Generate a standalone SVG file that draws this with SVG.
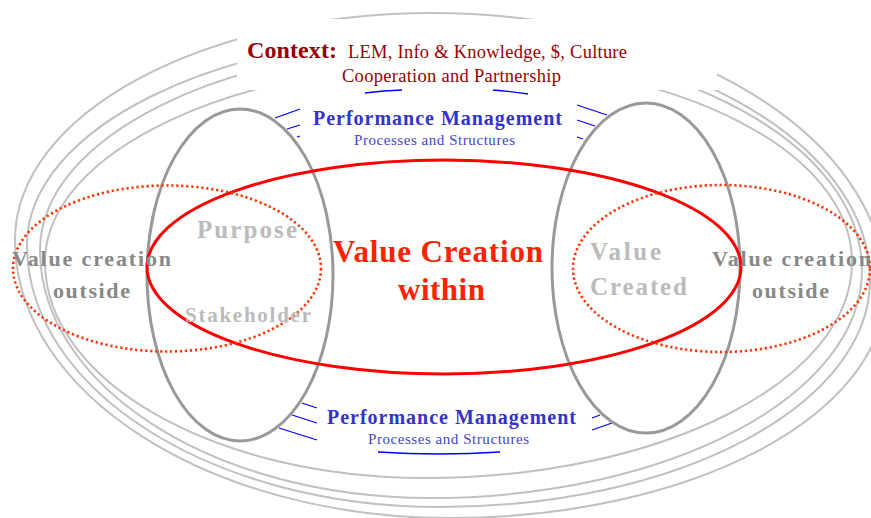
<svg xmlns="http://www.w3.org/2000/svg" width="871" height="518" viewBox="0 0 871 518">
  <style>
    .ring { fill: none; stroke: #c0c0c0; stroke-width: 2; }
    .lobe { fill: none; stroke: #999999; stroke-width: 3; }
    .core { fill: none; stroke: #ff0000; stroke-width: 3; }
    .dots { fill: none; stroke: #ff3300; stroke-width: 2.6; stroke-dasharray: 2.2 2.8; }
    .tick { fill: none; stroke: #0000ff; stroke-width: 1.3; }
    .serif { font-family: "Liberation Serif", "Times New Roman", serif; }
    .ctx-b { font-size: 24px; font-weight: bold; fill: #990000; }
    .ctx { font-size: 18.5px; fill: #990000; }
    .pm { font-size: 20px; font-weight: bold; fill: #3333cc; }
    .ps { font-size: 15px; fill: #4444cc; }
    .main { font-size: 31px; font-weight: bold; fill: #ff2200; }
    .pale { font-weight: bold; fill: #bbbbbb; }
    .outer { font-size: 22px; font-weight: bold; fill: #888888; }
  </style>

  <!-- outer context rings, one closed curve each -->
  <g id="rings">
    <path class="ring" d="M15,240 C15,114.6 202.1,13 433,13 C682.6,13 885,137 885,290 C885,415.9 690.3,518 450,518 C209.7,518 15,393.5 15,240 Z"/>
    <path class="ring" d="M27,245 C27,129 216.4,35 450,35 C682,35 870,144.7 870,280 C870,405.4 677.5,507 440,507 C211.9,507 27,389.7 27,245 Z"/>
    <path class="ring" d="M40,250 C40,136.8 225.8,45 455,45 C679.8,45 862,145.7 862,270 C862,395.9 668.6,498 430,498 C214.6,498 40,387 40,250 Z"/>
    <path class="ring" d="M45,262 C45,152.1 233,63 465,63 C678.7,63 852,152.1 852,262 C852,381.3 660.8,478 425,478 C215.1,478 45,381.3 45,262 Z"/>
  </g>

  <!-- context label panel -->
  <g id="context">
    <rect x="237" y="19" width="480" height="71" fill="#ffffff"/>
    <text class="serif ctx-b" x="247" y="58" textLength="90" lengthAdjust="spacing">Context:</text>
    <text class="serif ctx" x="348" y="58" textLength="279" lengthAdjust="spacing">LEM, Info &amp; Knowledge, $, Culture</text>
    <text class="serif ctx" x="342" y="82" textLength="219" lengthAdjust="spacing">Cooperation and Partnership</text>
  </g>

  <!-- performance management strokes -->
  <g id="connectors">
    <path class="tick" d="M365,93 Q384,90.5 402,90"/>
    <path class="tick" d="M493,90 Q511,91.5 528,94"/>
    <path class="tick" d="M275,118 L300,109"/>
    <path class="tick" d="M287,129 L300,125"/>
    <path class="tick" d="M297,137 L300,136"/>
    <path class="tick" d="M577,105 L607,115"/>
    <path class="tick" d="M577,120 L595,126"/>
    <path class="tick" d="M577,137 L583,139"/>
    <path class="tick" d="M302,403 L317,408"/>
    <path class="tick" d="M292,415 L317,423"/>
    <path class="tick" d="M279,428 L317,440"/>
    <path class="tick" d="M592,418 L600,415"/>
    <path class="tick" d="M592,430 L612,423"/>
    <path class="tick" d="M378,452 Q439,456 500,452"/>
  </g>

  <g id="pm-top">
    <text class="serif pm" x="313" y="125" textLength="249" lengthAdjust="spacing">Performance Management</text>
    <text class="serif ps" x="354" y="145" textLength="161" lengthAdjust="spacing">Processes and Structures</text>
  </g>
  <g id="pm-bottom">
    <text class="serif pm" x="327" y="424" textLength="249" lengthAdjust="spacing">Performance Management</text>
    <text class="serif ps" x="368" y="444" textLength="161" lengthAdjust="spacing">Processes and Structures</text>
  </g>

  <!-- stakeholder and result lobes -->
  <g id="lobe-left">
    <ellipse class="lobe" cx="240" cy="275" rx="93" ry="166"/>
  </g>
  <g id="lobe-right">
    <ellipse class="lobe" cx="646" cy="268" rx="94" ry="165"/>
  </g>

  <!-- value creation within -->
  <g id="within">
    <ellipse class="core" cx="444" cy="267" rx="297" ry="107"/>
    <text class="serif main" x="333" y="262" textLength="210" lengthAdjust="spacing">Value Creation</text>
    <text class="serif main" x="398" y="300" textLength="87" lengthAdjust="spacing">within</text>
  </g>

  <!-- value creation outside -->
  <g id="outside-left">
    <ellipse class="dots" cx="167" cy="268.5" rx="154" ry="83"/>
    <text class="serif outer" x="12" y="266" textLength="159" lengthAdjust="spacing">Value creation</text>
    <text class="serif outer" x="53" y="298" textLength="77" lengthAdjust="spacing">outside</text>
  </g>
  <g id="outside-right">
    <ellipse class="dots" cx="721.5" cy="268.5" rx="148.5" ry="83.5"/>
    <text class="serif outer" x="712" y="266" textLength="159" lengthAdjust="spacing">Value creation</text>
    <text class="serif outer" x="752" y="298" textLength="77" lengthAdjust="spacing">outside</text>
  </g>

  <g id="purpose">
    <text class="serif pale" font-size="25" x="197" y="238" textLength="100" lengthAdjust="spacing">Purpose</text>
  </g>
  <g id="stakeholder">
    <text class="serif pale" font-size="21" x="185" y="322" textLength="126" lengthAdjust="spacing">Stakeholder</text>
  </g>
  <g id="value-created">
    <text class="serif pale" font-size="25" x="590" y="260" textLength="71" lengthAdjust="spacing">Value</text>
    <text class="serif pale" font-size="25" x="590" y="295" textLength="97" lengthAdjust="spacing">Created</text>
  </g>
</svg>
